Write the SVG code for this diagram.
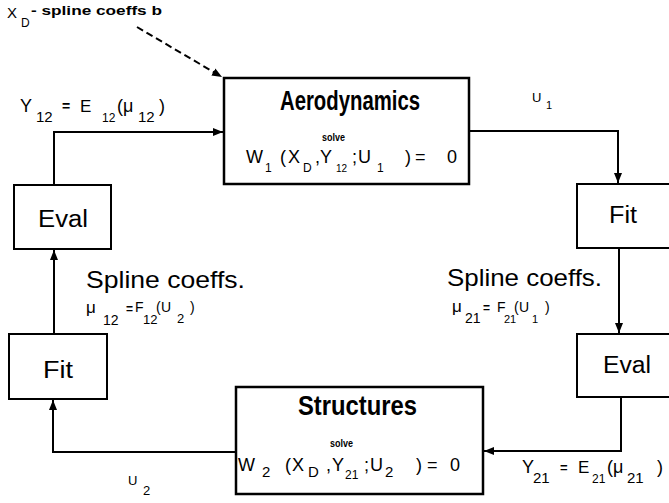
<svg xmlns="http://www.w3.org/2000/svg" width="669" height="503" viewBox="0 0 669 503">
<style>
.box{fill:#fff;stroke:#000;stroke-width:2}
.big{fill:#fff;stroke:#000;stroke-width:2.5}
.conn{fill:none;stroke:#000;stroke-width:2}
.dash{fill:none;stroke:#000;stroke-width:2;stroke-dasharray:7 4}
text{font-family:"Liberation Sans",Arial,Helvetica,sans-serif;fill:#000}
.title{font-weight:bold;font-size:28px}
.solve{font-weight:bold;font-size:10px}
.lbl{font-size:23px}
.sp{font-size:24px}
</style>
<defs>
<marker id="ah" markerUnits="userSpaceOnUse" markerWidth="10" markerHeight="10" viewBox="0 0 10 10" refX="10" refY="5" orient="auto">
<path d="M0,1 L10,5 L0,9 z" fill="#000"/>
</marker>
</defs>

<g id="connectors">
<path class="conn" d="M54,185 V132 H223" marker-end="url(#ah)"/>
<path class="conn" d="M54,334 V250" marker-end="url(#ah)"/>
<path class="conn" d="M236,452 H53 V400" marker-end="url(#ah)"/>
<path class="conn" d="M469,131 H618 V183" marker-end="url(#ah)"/>
<path class="conn" d="M619,248 V333" marker-end="url(#ah)"/>
<path class="conn" d="M621,397 V451 H484" marker-end="url(#ah)"/>
<path class="dash" d="M137,27 L222,77" marker-end="url(#ah)"/>
</g>

<g id="aero">
<rect class="big" x="224" y="78" width="245" height="106"/>
<text class="title" x="280" y="110" textLength="140" lengthAdjust="spacingAndGlyphs">Aerodynamics</text>
<text class="solve" x="322" y="141" textLength="23" lengthAdjust="spacingAndGlyphs">solve</text>
<text font-size="18"><tspan x="246" y="163">W</tspan><tspan x="265" y="172" font-size="12">1</tspan><tspan x="280" y="163">(</tspan><tspan x="288" y="163">X</tspan><tspan x="303" y="172" font-size="12">D</tspan><tspan x="315" y="163">,</tspan><tspan x="320" y="163">Y</tspan><tspan x="336" y="172" font-size="10">12</tspan><tspan x="352" y="163">;</tspan><tspan x="358" y="163">U</tspan><tspan x="377" y="172" font-size="12">1</tspan><tspan x="405" y="163">)</tspan><tspan x="415" y="163">=</tspan><tspan x="447" y="163">0</tspan></text>
</g>

<g id="structures">
<rect class="big" x="236" y="387" width="247" height="107"/>
<text class="title" x="298" y="415" textLength="119" lengthAdjust="spacingAndGlyphs">Structures</text>
<text class="solve" x="330" y="447" textLength="23" lengthAdjust="spacingAndGlyphs">solve</text>
<text font-size="18"><tspan x="238" y="471">W</tspan><tspan x="262" y="477" font-size="15">2</tspan><tspan x="285" y="471">(</tspan><tspan x="292" y="471">X</tspan><tspan x="308" y="477" font-size="15">D</tspan><tspan x="326" y="471">,</tspan><tspan x="332" y="471">Y</tspan><tspan x="345" y="479" font-size="12">21</tspan><tspan x="364" y="471">;</tspan><tspan x="370" y="471">U</tspan><tspan x="385" y="477" font-size="15">2</tspan><tspan x="416" y="471">)</tspan><tspan x="427" y="471">=</tspan><tspan x="450" y="471">0</tspan></text>
</g>

<g id="eval-left">
<rect class="box" x="14" y="185" width="97" height="64"/>
<text class="lbl" x="38" y="227" textLength="50" lengthAdjust="spacingAndGlyphs">Eval</text>
</g>

<g id="fit-left">
<rect class="box" x="9" y="334" width="98" height="65"/>
<text class="lbl" x="43" y="378" textLength="30" lengthAdjust="spacingAndGlyphs">Fit</text>
</g>

<g id="fit-right">
<rect class="box" x="577" y="184" width="110" height="64"/>
<text class="lbl" x="609" y="223" textLength="28" lengthAdjust="spacingAndGlyphs">Fit</text>
</g>

<g id="eval-right">
<rect class="box" x="577" y="334" width="110" height="63"/>
<text class="lbl" x="603" y="373" textLength="48" lengthAdjust="spacingAndGlyphs">Eval</text>
</g>

<g id="labels">
<text font-size="15"><tspan x="7" y="18">X</tspan><tspan x="21" y="27" font-size="12">D</tspan></text>
<text x="31" y="15" font-size="12" font-weight="bold" textLength="131" lengthAdjust="spacingAndGlyphs">- spline coeffs b</text>

<text font-size="18"><tspan x="20" y="112">Y</tspan><tspan x="36" y="122" font-size="15">12</tspan><tspan x="62" y="111" font-size="14" font-weight="bold">=</tspan><tspan x="80" y="112" font-size="17">E</tspan><tspan x="102" y="122" font-size="12">12</tspan><tspan x="117" y="112">(</tspan><tspan x="123" y="112">μ</tspan><tspan x="138" y="122" font-size="15">12</tspan><tspan x="159" y="112">)</tspan></text>

<text font-size="13"><tspan x="532" y="102">U</tspan><tspan x="546" y="109" font-size="11">1</tspan></text>

<text class="sp" x="86" y="288" textLength="159" lengthAdjust="spacingAndGlyphs">Spline coeffs.</text>
<text font-size="14"><tspan x="86" y="313" font-size="17">μ</tspan><tspan x="103" y="325">12</tspan><tspan x="126" y="313" font-size="12" font-weight="bold">=</tspan><tspan x="135" y="312">F</tspan><tspan x="143" y="324" font-size="13">12</tspan><tspan x="156" y="312">(</tspan><tspan x="161" y="312">U</tspan><tspan x="177" y="323" font-size="13">2</tspan><tspan x="190" y="312">)</tspan></text>

<text class="sp" x="447" y="286" textLength="155" lengthAdjust="spacingAndGlyphs">Spline coeffs.</text>
<text font-size="14"><tspan x="452" y="312" font-size="17">μ</tspan><tspan x="465" y="323">21</tspan><tspan x="483" y="312" font-size="12" font-weight="bold">=</tspan><tspan x="497" y="312">F</tspan><tspan x="504" y="323" font-size="11">21</tspan><tspan x="514" y="312">(</tspan><tspan x="519" y="312">U</tspan><tspan x="532" y="323" font-size="11">1</tspan><tspan x="545" y="312">)</tspan></text>

<text font-size="18"><tspan x="522" y="473">Y</tspan><tspan x="533" y="483" font-size="15">21</tspan><tspan x="560" y="472" font-size="13" font-weight="bold">=</tspan><tspan x="578" y="473" font-size="17">E</tspan><tspan x="592" y="483" font-size="12">21</tspan><tspan x="607" y="473">(</tspan><tspan x="613" y="473">μ</tspan><tspan x="627" y="483" font-size="15">21</tspan><tspan x="657" y="473">)</tspan></text>

<text font-size="13"><tspan x="128" y="485">U</tspan><tspan x="143" y="495">2</tspan></text>
</g>
</svg>
